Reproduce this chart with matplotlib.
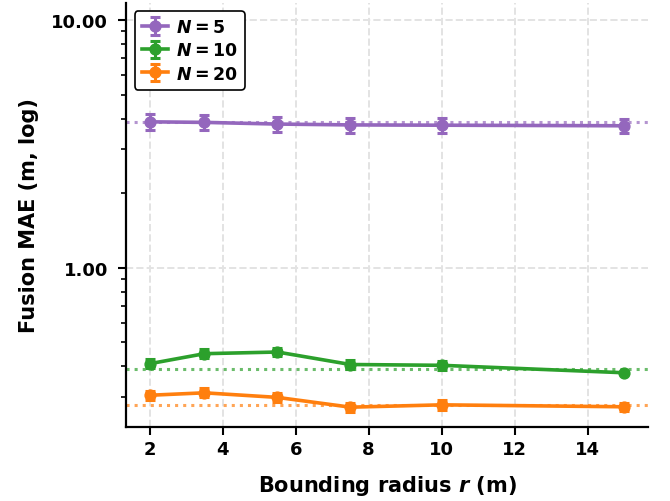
import numpy as np
import matplotlib
matplotlib.use("Agg")
from matplotlib import pyplot as plt
from matplotlib.ticker import LogLocator, FormatStrFormatter, NullFormatter

radius = [2, 3.5, 5.5, 7.5, 10, 15]

mae_n5 = [3.88, 3.86, 3.80, 3.77, 3.76, 3.74]
err_n5 = [0.28, 0.27, 0.26, 0.26, 0.26, 0.25]
mae_n10 = [0.409, 0.449, 0.456, 0.406, 0.403, 0.376]
err_n10 = [0.017, 0.018, 0.018, 0.017, 0.017, 0.0]
mae_n20 = [0.305, 0.312, 0.299, 0.273, 0.279, 0.274]
err_n20 = [0.013, 0.013, 0.012, 0.011, 0.012, 0.011]

# dotted reference levels
ref_levels = [3.87, 0.390, 0.279]

series = [
    ("5", mae_n5, err_n5, "#9467bd"),
    ("10", mae_n10, err_n10, "#2ca02c"),
    ("20", mae_n20, err_n20, "#ff7f0e"),
]

plt.rcParams['font.family'] = ['DejaVu Sans']
plt.rcParams['font.weight'] = 'bold'
plt.rcParams['axes.labelweight'] = 'bold'

fig = plt.figure(figsize=(6.7, 5.02), dpi=100)
ax = fig.add_axes([0.188, 0.147, 0.779, 0.846])

for (n, vals, errs, col), ref in zip(series, ref_levels):
    ax.errorbar(radius, vals, yerr=errs, color=col, marker='o', markersize=7.8,
                linewidth=2.6, capsize=3.6, capthick=2.2, elinewidth=2.2,
                label=r'$\boldsymbol{N=' + n + '}$', zorder=3)
    ax.axhline(ref, color=col, linestyle=':', linewidth=2.2, alpha=0.7, zorder=2)

ax.set_yscale('log')
ax.set_xlim(1.35, 15.65)
ax.set_ylim(0.2266, 11.77)
ax.set_xticks([2, 4, 6, 8, 10, 12, 14])
ax.yaxis.set_major_locator(LogLocator(base=10))
ax.yaxis.set_major_formatter(FormatStrFormatter('%.2f'))
ax.yaxis.set_minor_locator(LogLocator(base=10, subs=np.arange(2, 10)))
ax.yaxis.set_minor_formatter(NullFormatter())

ax.grid(True, which='major', linestyle='--', color='#e3e3e3', linewidth=1.4, zorder=0)
ax.set_axisbelow(True)

for side in ['top', 'right']:
    ax.spines[side].set_visible(False)
for side in ['left', 'bottom']:
    ax.spines[side].set_linewidth(1.6)

ax.tick_params(axis='both', which='major', labelsize=13, length=6, width=1.5)
ax.tick_params(axis='x', which='major', pad=3)
ax.tick_params(axis='y', which='major', pad=7)
ax.tick_params(axis='y', which='minor', length=3.8, width=1.2)

ax.set_xlabel(r'Bounding radius $\boldsymbol{r}$ (m)', fontsize=15, fontweight='bold',
              labelpad=11)
ax.set_ylabel('Fusion MAE (m, log)', fontsize=15, fontweight='bold', labelpad=9)

leg = ax.legend(loc='upper left', fontsize=12.5, frameon=True, fancybox=True,
                handlelength=1.5, labelspacing=0.3, handletextpad=0.5)
leg.get_frame().set_edgecolor('black')
leg.get_frame().set_linewidth(1.2)
leg.get_frame().set_alpha(1)

fig.savefig('out.png', dpi=100)
